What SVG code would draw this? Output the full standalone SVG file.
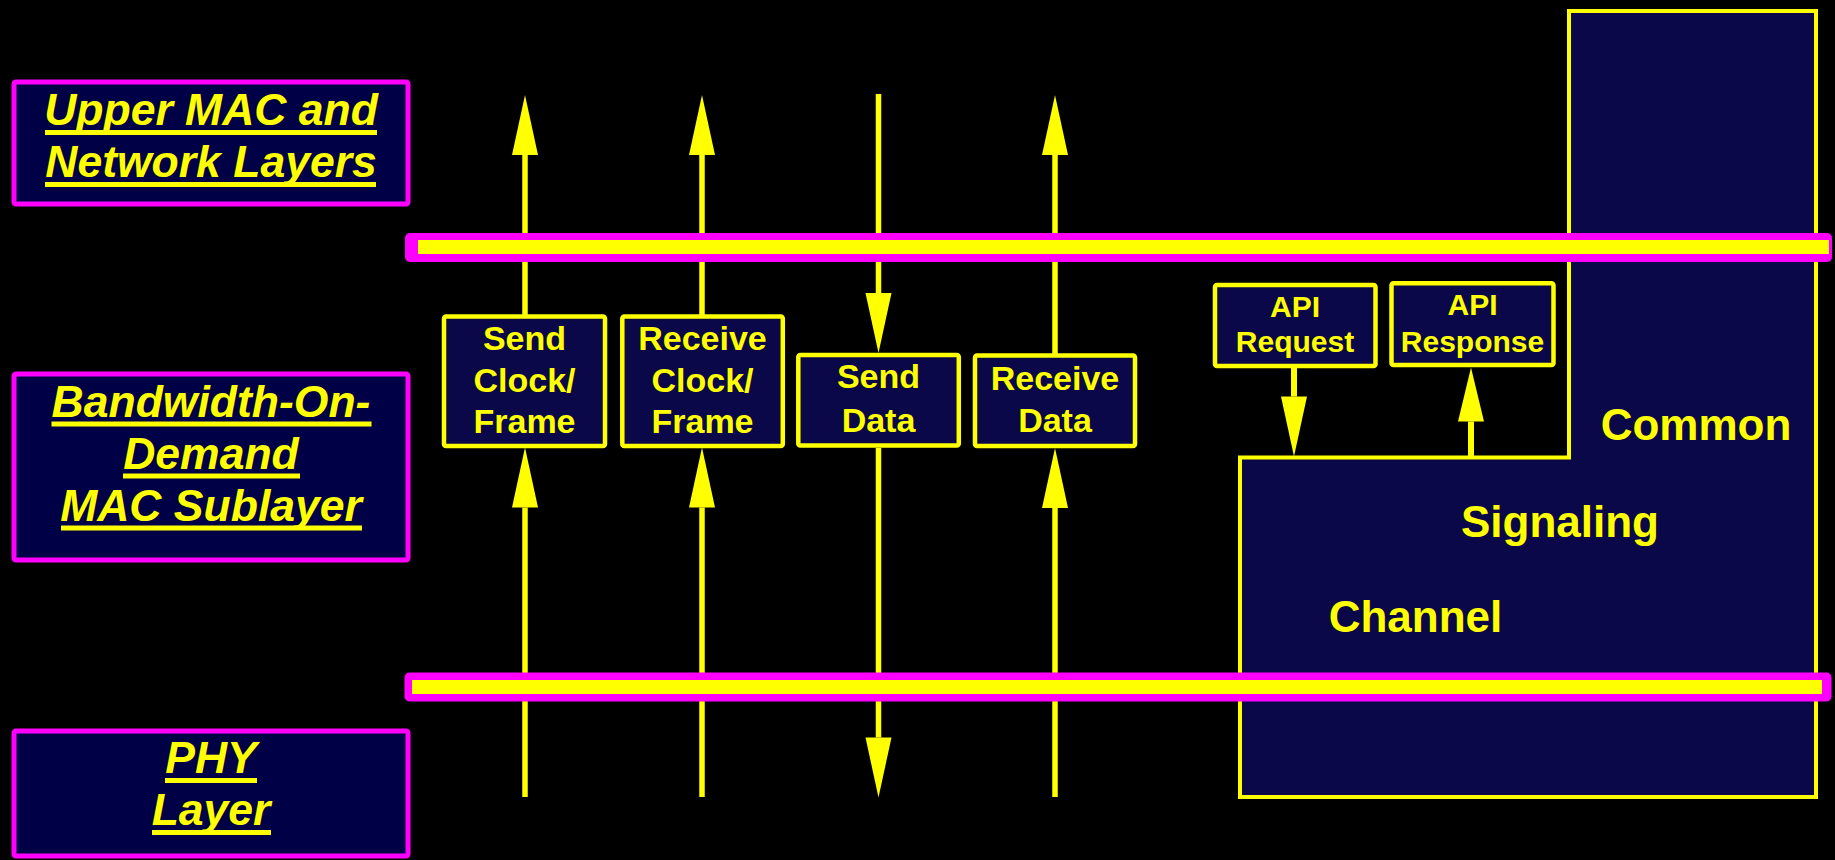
<svg xmlns="http://www.w3.org/2000/svg" width="1835" height="860" viewBox="0 0 1835 860">
  <style>
    .layer-box { fill: #000046; stroke: #FF00FF; stroke-width: 5; }
    .layer-text { font-family: "Liberation Sans", Arial, sans-serif; font-weight: bold; font-style: italic; font-size: 44.5px; fill: #FFFF00; text-anchor: middle; }
    .uline { fill: #FFFF00; }
    .node-box { fill: #0A0848; stroke: #FFFF00; stroke-width: 4.5; }
    .node-text { font-family: "Liberation Sans", Arial, sans-serif; font-weight: bold; font-size: 34px; fill: #FFFF00; text-anchor: middle; }
    .api-text { font-family: "Liberation Sans", Arial, sans-serif; font-weight: bold; font-size: 30px; fill: #FFFF00; text-anchor: middle; }
    .big-text { font-family: "Liberation Sans", Arial, sans-serif; font-weight: bold; font-size: 44px; fill: #FFFF00; text-anchor: middle; }
    .conn { stroke: #FFFF00; stroke-width: 5.5; fill: none; marker-end: url(#head); }
    .conn-api { stroke: #FFFF00; stroke-width: 6; fill: none; }
    .bus-outer { fill: #FF00FF; }
    .bus-inner { fill: #FFFF00; }
  </style>
  <defs>
    <marker id="head" viewBox="0 -13 60 26" refX="0" refY="0" markerWidth="60" markerHeight="26" markerUnits="userSpaceOnUse" orient="auto" overflow="visible">
      <path d="M0,-13 L60,0 L0,13 Z" fill="#FFFF00"/>
    </marker>
    <marker id="head-short" viewBox="0 -13 54 26" refX="0" refY="0" markerWidth="54" markerHeight="26" markerUnits="userSpaceOnUse" orient="auto" overflow="visible">
      <path d="M0,-13 L54,0 L0,13 Z" fill="#FFFF00"/>
    </marker>
  </defs>

  <rect x="0" y="0" width="1835" height="860" fill="#000000"/>

  <!-- Common Signaling Channel region -->
  <g id="common-signaling-channel">
    <polygon points="1569,11 1816,11 1816,797 1240,797 1240,457.5 1569,457.5" fill="#0A0848" stroke="#FFFF00" stroke-width="4" stroke-linejoin="miter"/>
    <text class="big-text" x="1696" y="440">Common</text>
    <text class="big-text" x="1560" y="536.5">Signaling</text>
    <text class="big-text" x="1415.5" y="631.5">Channel</text>
  </g>

  <!-- Layer labels on the left -->
  <g id="upper-mac-network">
    <rect class="layer-box" x="14" y="82" width="394" height="122" rx="2"/>
    <text class="layer-text" x="211" y="125">Upper MAC and</text>
    <rect class="uline" x="45" y="130" width="332" height="5"/>
    <text class="layer-text" x="211" y="177">Network Layers</text>
    <rect class="uline" x="45" y="182" width="331" height="5"/>
  </g>

  <g id="bod-mac-sublayer">
    <rect class="layer-box" x="14" y="374" width="394" height="186" rx="2"/>
    <text class="layer-text" x="211" y="416.5">Bandwidth-On-</text>
    <rect class="uline" x="51.5" y="421.5" width="320" height="5"/>
    <text class="layer-text" x="211" y="468.5">Demand</text>
    <rect class="uline" x="123" y="473.5" width="177" height="5"/>
    <text class="layer-text" x="211" y="520.5">MAC Sublayer</text>
    <rect class="uline" x="61" y="525.5" width="301" height="5"/>
  </g>

  <g id="phy-layer">
    <rect class="layer-box" x="14" y="731" width="394" height="125" rx="2"/>
    <text class="layer-text" x="211" y="773">PHY</text>
    <rect class="uline" x="165" y="778" width="92" height="5"/>
    <text class="layer-text" x="211" y="825">Layer</text>
    <rect class="uline" x="152" y="830" width="119" height="5"/>
  </g>

  <!-- Connectors -->
  <g id="connectors">
    <path class="conn" d="M525,317 V155"/>
    <path class="conn" d="M525,797 V507.5"/>
    <path class="conn" d="M702,317 V155"/>
    <path class="conn" d="M702,797 V507.5"/>
    <path class="conn" d="M878.5,94 V293"/>
    <path class="conn" d="M878.5,448 V737.5"/>
    <path class="conn" d="M1055,355 V155"/>
    <path class="conn" d="M1055,797 V508"/>
    <path class="conn-api" d="M1294,366 V396.5" marker-end="url(#head)"/>
    <path class="conn-api" d="M1471,457 V421.5" marker-end="url(#head-short)"/>
  </g>

  <!-- Primitive boxes -->
  <g id="send-clock-frame">
    <rect class="node-box" x="444" y="316.5" width="161" height="129.5" rx="2"/>
    <text class="node-text" x="524.5" y="350">Send</text>
    <text class="node-text" x="524.5" y="391.5">Clock/</text>
    <text class="node-text" x="524.5" y="433">Frame</text>
  </g>

  <g id="receive-clock-frame">
    <rect class="node-box" x="622.3" y="316.5" width="160.5" height="129.5" rx="2"/>
    <text class="node-text" x="702.5" y="350">Receive</text>
    <text class="node-text" x="702.5" y="391.5">Clock/</text>
    <text class="node-text" x="702.5" y="433">Frame</text>
  </g>

  <g id="send-data">
    <rect class="node-box" x="798.3" y="355" width="160.5" height="90.5" rx="2"/>
    <text class="node-text" x="878.5" y="387.5">Send</text>
    <text class="node-text" x="878.5" y="431.5">Data</text>
  </g>

  <g id="receive-data">
    <rect class="node-box" x="975" y="355.5" width="160" height="90.5" rx="2"/>
    <text class="node-text" x="1055" y="389.5">Receive</text>
    <text class="node-text" x="1055" y="431.5">Data</text>
  </g>

  <g id="api-request">
    <rect class="node-box" x="1215" y="285" width="160.5" height="81" rx="2"/>
    <text class="api-text" x="1295" y="316.5">API</text>
    <text class="api-text" x="1295" y="352">Request</text>
  </g>

  <g id="api-response">
    <rect class="node-box" x="1391.5" y="283.2" width="162" height="81.8" rx="2"/>
    <text class="api-text" x="1472.5" y="315">API</text>
    <text class="api-text" x="1472.5" y="351.5">Response</text>
  </g>

  <!-- Service access buses -->
  <g id="bus-upper">
    <rect class="bus-outer" x="405" y="233" width="1427" height="29" rx="5"/>
    <rect class="bus-inner" x="418" y="240" width="1411" height="14"/>
  </g>

  <g id="bus-lower">
    <rect class="bus-outer" x="404.5" y="672.5" width="1427" height="29" rx="5"/>
    <rect class="bus-inner" x="412" y="680" width="1410" height="14"/>
  </g>
</svg>
